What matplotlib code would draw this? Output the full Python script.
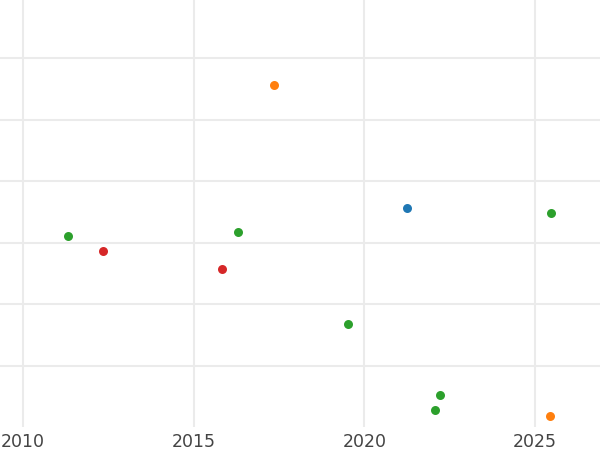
import matplotlib
matplotlib.use("Agg")
import matplotlib.pyplot as plt

blue_x = [2021.26]
blue_y = [3.57]
orange_x = [2017.36, 2025.43]
orange_y = [5.57, 0.18]
green_x = [2025.47, 2011.33, 2016.31, 2019.53, 2022.23, 2022.07]
green_y = [3.49, 3.11, 3.18, 1.68, 0.52, 0.28]
red_x = [2012.35, 2015.82]
red_y = [2.87, 2.57]

xticks = [2010, 2015, 2020, 2025]
yticks = [1, 2, 3, 4, 5, 6]

fig = plt.figure(figsize=(6, 4.5), dpi=100)
ax = fig.add_axes([0, 0.051, 1, 0.949])
for xs, ys, c in [(blue_x, blue_y, "#1f77b4"), (orange_x, orange_y, "#ff7f0e"),
                  (green_x, green_y, "#2ca02c"), (red_x, red_y, "#d62728")]:
    ax.scatter(xs, ys, s=42, color=c, zorder=3, linewidths=0)

ax.set_xlim(2009.335, 2026.9)
ax.set_ylim(0, 6.95)
ax.set_xticks(xticks)
ax.set_xticklabels([str(t) for t in xticks])
ax.set_yticks(yticks)
ax.set_yticklabels([])
ax.tick_params(axis="both", length=0, labelsize=12.5, labelcolor="#444444", pad=4)
ax.grid(True, color="#ebebeb", linewidth=1.5, zorder=0)
ax.set_axisbelow(True)
for s in ax.spines.values():
    s.set_visible(False)

fig.savefig("out.png", dpi=100)
